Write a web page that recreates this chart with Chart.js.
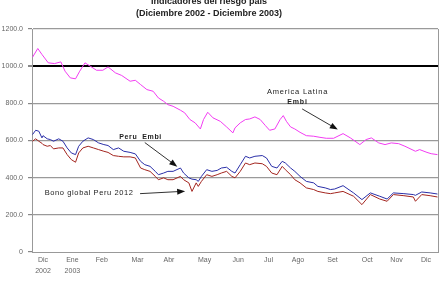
<!DOCTYPE html>
<html>
<head>
<meta charset="utf-8">
<script src="https://cdn.jsdelivr.net/npm/chart.js@4.4.1/dist/chart.umd.min.js"></script>
<style>
  html, body { margin: 0; padding: 0; background: #fff; }
  #wrap { width: 447px; height: 289px; }
</style>
</head>
<body>
<div id="wrap"><canvas id="riesgoChart"></canvas></div>
<script>
// days counted from 1 Dec 2002
const monthDays = [0, 28, 56, 90, 120, 154, 186, 215, 243, 276, 309, 337, 365];
const monthLabels = [['Dic', '2002'], ['Ene', '2003'], 'Feb', 'Mar', 'Abr', 'May', 'Jun', 'Jul', 'Ago', 'Set', 'Oct', 'Nov', 'Dic'];

const latamDays = [-10, -5, -1, 5, 11, 17, 21, 26, 31, 35, 40, 45, 51, 57, 62, 69, 75, 83, 88, 93,
  99, 105, 110, 115, 119, 124, 131, 135, 140, 145, 150, 153, 157, 162, 169, 175, 181, 183, 188, 193,
  197, 202, 207, 212, 216, 221, 226, 229, 232, 236, 240, 245, 251, 258, 264, 270, 277, 286, 293, 302,
  308, 313, 320, 326, 332, 339, 345, 355, 359, 366, 370, 376];
const latamEmbi = [1048, 1095, 1063, 1018, 1014, 1023, 973, 937, 932, 973, 1018, 1000, 978, 978, 996, 964, 950, 919, 924, 901,
  874, 865, 829, 811, 793, 784, 763, 749, 713, 695, 662, 713, 752, 722, 703, 673, 641, 668, 695, 713,
  716, 727, 713, 680, 655, 662, 713, 734, 703, 673, 662, 644, 626, 623, 617, 612, 612, 637, 614, 578,
  605, 614, 587, 578, 587, 583, 569, 542, 551, 536, 529, 524];

const peruDays = [-10, -7, -4, -1, 0, 4, 7, 10, 15, 19, 23, 27, 31, 34, 38, 43, 48, 53, 58, 62,
  67, 72, 77, 83, 88, 93, 97, 102, 107, 110, 115, 119, 124, 131, 134, 139, 142, 146, 148, 151,
  156, 161, 166, 170, 175, 180, 183, 188, 193, 197, 202, 209, 213, 218, 223, 228, 231, 236, 240, 245,
  251, 258, 262, 269, 274, 278, 286, 296, 304, 312, 321, 328, 334, 344, 353, 355, 361, 369, 376];
const peruEmbi = [632, 655, 650, 614, 626, 609, 605, 596, 609, 596, 560, 533, 524, 569, 596, 614, 605, 587, 578, 573,
  551, 560, 542, 536, 528, 488, 470, 461, 434, 416, 425, 434, 434, 452, 425, 399, 392, 389, 380, 407,
  443, 434, 439, 452, 456, 434, 425, 470, 515, 506, 515, 519, 506, 461, 452, 488, 479, 452, 434, 407,
  380, 372, 353, 345, 336, 339, 357, 318, 282, 318, 300, 285, 318, 314, 309, 305, 323, 318, 312];
const bonoGlobal = [596, 609, 596, 585, 578, 569, 573, 555, 560, 560, 524, 497, 483, 533, 560, 569, 560, 551, 542, 536,
  519, 515, 512, 512, 506, 452, 443, 434, 407, 389, 399, 389, 389, 407, 389, 372, 326, 372, 353, 380,
  416, 407, 416, 425, 434, 407, 399, 434, 479, 470, 479, 475, 461, 425, 416, 461, 443, 416, 389, 372,
  345, 336, 326, 318, 314, 318, 326, 300, 255, 309, 285, 273, 309, 303, 296, 273, 309, 303, 296];

const toPoints = (xs, ys) => xs.map((x, i) => ({ x: x, y: ys[i] }));

// titles, arrows and series notes drawn on top of the plot
const notesPlugin = {
  id: 'notes',
  afterDatasetsDraw(chart) {
    const ctx = chart.ctx;
    const xs = chart.scales.x;
    const ys = chart.scales.y;
    const area = chart.chartArea;
    const px = d => xs.getPixelForValue(d);
    const py = v => ys.getPixelForValue(v);

    ctx.save();
    // right border of plot
    ctx.strokeStyle = '#999';
    ctx.lineWidth = 1;
    ctx.beginPath();
    ctx.moveTo(area.right + 0.5, area.top);
    ctx.lineTo(area.right + 0.5, area.bottom);
    ctx.stroke();

    ctx.fillStyle = '#222';
    ctx.textAlign = 'center';
    ctx.textBaseline = 'middle';
    ctx.font = 'bold 9px "Liberation Sans", Arial, sans-serif';
    ctx.fillText('Indicadores del riesgo país', 209, 2);
    ctx.fillText('(Diciembre 2002 - Diciembre 2003)', 209, 13.5);

    ctx.letterSpacing = '0.6px';
    ctx.font = 'bold 7px "Liberation Sans", Arial, sans-serif';
    ctx.fillText('Peru  Embi', px(93), py(621));
    ctx.font = '7.5px "Liberation Sans", Arial, sans-serif';
    ctx.fillText('Bono global Peru 2012', px(44), py(319));
    ctx.letterSpacing = '0.8px';
    ctx.fillText('America Latina', px(242.6), py(863));
    ctx.font = 'bold 7px "Liberation Sans", Arial, sans-serif';
    ctx.fillText('Embi', px(242.6), py(809));
    ctx.letterSpacing = '0px';

    const arrow = (x0, y0, x1, y1) => {
      const a = Math.atan2(y1 - y0, x1 - x0);
      ctx.strokeStyle = '#333';
      ctx.fillStyle = '#111';
      ctx.lineWidth = 1;
      ctx.beginPath();
      ctx.moveTo(x0, y0);
      ctx.lineTo(x1 - 5 * Math.cos(a), y1 - 5 * Math.sin(a));
      ctx.stroke();
      ctx.beginPath();
      ctx.moveTo(x1, y1);
      ctx.lineTo(x1 - 8 * Math.cos(a) + 3 * Math.sin(a), y1 - 8 * Math.sin(a) - 3 * Math.cos(a));
      ctx.lineTo(x1 - 8 * Math.cos(a) - 3 * Math.sin(a), y1 - 8 * Math.sin(a) + 3 * Math.cos(a));
      ctx.closePath();
      ctx.fill();
    };
    arrow(px(97), py(589), px(128), py(459));
    arrow(px(92.5), py(314), px(135.5), py(327));
    arrow(px(247), py(770), px(281), py(659));
    ctx.restore();
  }
};

new Chart(document.getElementById('riesgoChart'), {
  type: 'line',
  data: {
    datasets: [
      {
        label: 'America Latina Embi',
        data: toPoints(latamDays, latamEmbi),
        borderColor: '#f23cf2',
        borderWidth: 1,
        pointRadius: 0,
        tension: 0
      },
      {
        label: 'Peru Embi',
        data: toPoints(peruDays, peruEmbi),
        borderColor: '#2a2fa8',
        borderWidth: 1,
        pointRadius: 0,
        tension: 0
      },
      {
        label: 'Bono global Peru 2012',
        data: toPoints(peruDays, bonoGlobal),
        borderColor: '#a3251f',
        borderWidth: 1,
        pointRadius: 0,
        tension: 0
      }
    ]
  },
  options: {
    responsive: true,
    maintainAspectRatio: false,
    animation: false,
    layout: { padding: { top: 29, right: 9, left: 0, bottom: 0 } },
    plugins: {
      legend: { display: false },
      tooltip: { enabled: false },
      title: { display: false }
    },
    scales: {
      x: {
        type: 'linear',
        min: -10.5,
        max: 376.5,
        afterBuildTicks: (scale) => {
          scale.ticks = monthDays.map(d => ({ value: d }));
        },
        afterFit: (scale) => { scale.height = 37; },
        grid: { display: false, drawTicks: false, tickLength: 0 },
        border: { display: true, color: '#999', width: 1 },
        ticks: {
          autoSkip: false,
          maxRotation: 0,
          padding: 3,
          color: '#666',
          font: { size: 7, family: '"Liberation Sans", Arial, sans-serif', lineHeight: 1.5 },
          callback: (value, index) => monthLabels[index]
        }
      },
      y: {
        min: 0,
        max: 1200,
        afterFit: (scale) => { scale.width = 32; },
        border: { display: true, color: '#999', width: 1 },
        grid: {
          tickLength: 4,
          tickColor: '#888',
          color: (c) => c.tick.value === 1000 ? '#000' : (c.tick.value === 0 ? 'rgba(0,0,0,0)' : '#9a9a9a'),
          lineWidth: (c) => c.tick.value === 1000 ? 2 : 1.2
        },
        ticks: {
          stepSize: 200,
          padding: 5,
          color: '#666',
          font: { size: 7, family: '"Liberation Sans", Arial, sans-serif' },
          callback: (v) => v === 0 ? '0' : v.toFixed(1)
        }
      }
    }
  },
  plugins: [notesPlugin]
});
</script>
</body>
</html>
